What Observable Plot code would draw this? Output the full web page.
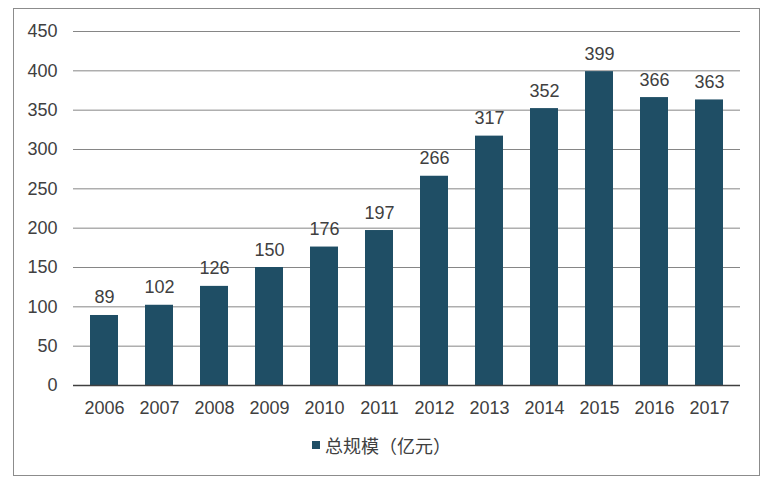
<!DOCTYPE html>
<html>
<head>
<meta charset="utf-8">
<script src="https://cdn.jsdelivr.net/npm/d3@7"></script>
<script src="https://cdn.jsdelivr.net/npm/@observablehq/plot@0.6"></script>
<style>
  html, body { margin: 0; padding: 0; background: #fff; }
  #wrap { position: relative; width: 776px; height: 483px; font-family: "Liberation Sans", Arial, "Noto Sans CJK SC", sans-serif; color: #404040; }
  #frame { position: absolute; left: 13px; top: 8px; width: 747px; height: 468px; border: 1px solid #8c8c8c; box-sizing: border-box; }
  #chart { position: absolute; left: 0; top: 0; }
  #legend { position: absolute; left: 312px; top: 432px; font-size: 18px; font-family: "Noto Sans CJK SC", sans-serif; display: flex; align-items: center; color: #404040; }
  #legend .sw { width: 8px; height: 8px; background: #1f4e65; margin-right: 5px; }
</style>
</head>
<body>
<div id="wrap">
  <div id="frame"></div>
  <div id="chart"></div>
  <div id="legend"><span class="sw"></span><span>总规模（亿元）</span></div>
</div>
<script>
const years = ["2006","2007","2008","2009","2010","2011","2012","2013","2014","2015","2016","2017"];
const values = [89, 102, 126, 150, 176, 197, 266, 317, 352, 399, 366, 363];
const yTicks = [0, 50, 100, 150, 200, 250, 300, 350, 400, 450];
const seriesName = "总规模（亿元）";

const data = years.map((y, i) => ({year: y, value: values[i]}));

const chart = Plot.plot({
  width: 776,
  height: 425,
  marginLeft: 73,
  marginRight: 36,
  marginTop: 31,
  marginBottom: 40,
  style: {fontFamily: '"Liberation Sans", Arial, sans-serif', fontSize: "18px", color: "#404040", background: "transparent"},
  x: {domain: years, paddingInner: 0.5, paddingOuter: 0.25, label: null},
  y: {domain: [0, 450], label: null},
  marks: [
    Plot.ruleY(yTicks.filter(d => d > 0), {stroke: "#868686", strokeWidth: 1, strokeOpacity: 1}),
    Plot.barY(data, {x: "year", y: "value", fill: "#1f4e65"}),
    Plot.ruleY([0], {stroke: "#404040", strokeWidth: 1.5}),
    Plot.text(data, {x: "year", y: "value", text: d => String(d.value), lineAnchor: "bottom", dy: -12, fontSize: 18, fill: "#404040"}),
    Plot.axisY({ticks: yTicks, tickSize: 0, tickPadding: 16, fontSize: 18, label: null}),
    Plot.axisX({tickSize: 0, tickPadding: 16, fontSize: 18, label: null})
  ]
});
document.getElementById("chart").appendChild(chart);
</script>
</body>
</html>
